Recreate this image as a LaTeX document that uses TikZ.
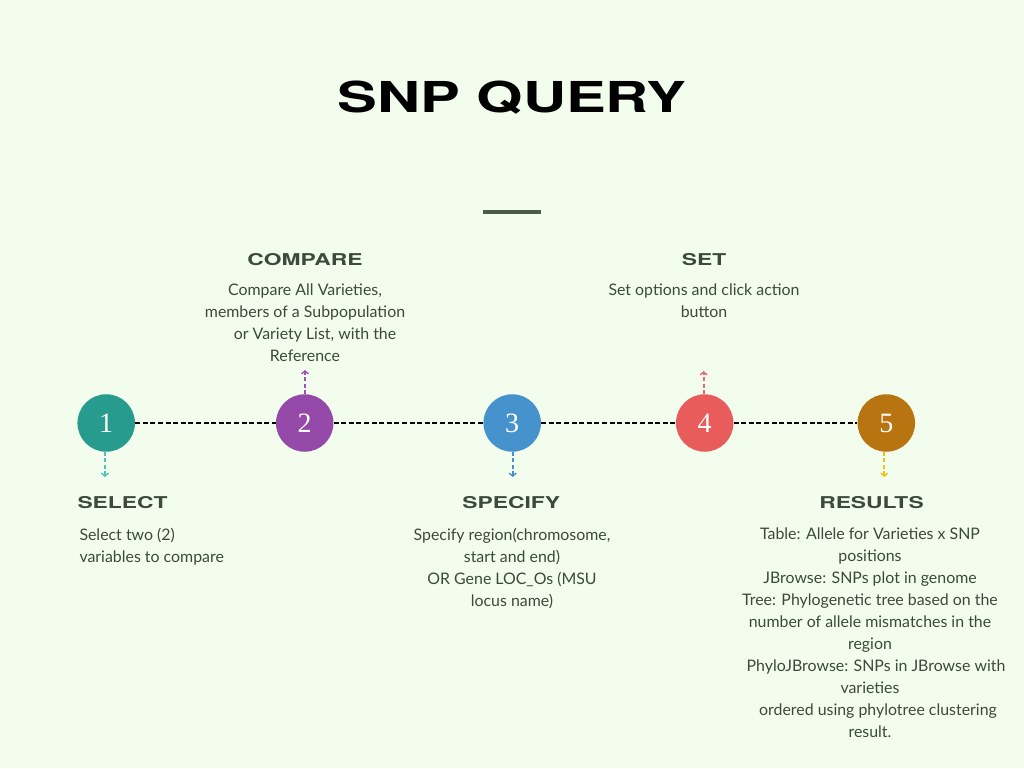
\documentclass[tikz,border=0pt]{standalone}
\usepackage{fontspec}
\setmainfont{Lato}
\newfontfamily\headfont[FakeStretch=1.4]{TeX Gyre Heros}
\newfontfamily\numfont{Liberation Serif}
\usetikzlibrary{arrows.meta}
\definecolor{bg}{HTML}{F2FDEE}
\definecolor{txt}{HTML}{3B4A3A}
\definecolor{rule}{HTML}{4B5B48}
\definecolor{cA}{HTML}{279C8E}
\definecolor{cB}{HTML}{9549A8}
\definecolor{cC}{HTML}{4592CD}
\definecolor{cD}{HTML}{E95C5C}
\definecolor{cE}{HTML}{B87411}
\definecolor{aA}{HTML}{50C4B8}
\definecolor{aB}{HTML}{A050B8}
\definecolor{aC}{HTML}{4592CD}
\definecolor{aD}{HTML}{E96868}
\definecolor{aE}{HTML}{E9C21A}
\tikzset{
  stepcirc/.style={circle, minimum size=57.5pt, inner sep=0pt, text=white, font=\numfont\fontsize{28}{28}\selectfont},
  linkline/.style={draw=black, line width=1.8pt, dash pattern=on 5pt off 2.6pt},
  tick/.style={line width=1.8pt, dash pattern=on 4pt off 2.5pt, -{Straight Barb[length=3pt,width=7pt,line width=1.4pt]}},
  heading/.style={anchor=base, text=txt, inner sep=0pt, font=\headfont\bfseries\fontsize{16.3}{16.3}\selectfont},
  body/.style={anchor=north, text=txt, inner sep=0pt, align=center, font=\fontsize{15.9}{22}\selectfont},
}
\begin{document}
\begin{tikzpicture}[x=1pt,y=-1pt]
\fill[bg] (0,0) rectangle (1024,768);
\useasboundingbox (0,0) rectangle (1024,768);
% title
\node[anchor=base, inner sep=0pt, text=black, font=\headfont\bfseries\fontsize{42.6}{42.6}\selectfont] (title) at (512,112) {SNP QUERY};
\draw[rule, line width=4pt] (483,212) -- (541,212);
% circles
\node[stepcirc, fill=cA] (n1) at (106.2,423) {1};
\node[stepcirc, fill=cB] (n2) at (304.7,423) {2};
\node[stepcirc, fill=cC] (n3) at (512.2,423) {3};
\node[stepcirc, fill=cD] (n4) at (704.7,423) {4};
\node[stepcirc, fill=cE] (n5) at (886.3,423) {5};
\draw[linkline] (n1) -- (n2);
\draw[linkline] (n2) -- (n3);
\draw[linkline] (n3) -- (n4);
\draw[linkline] (n4) -- (n5);
% ticks
\coordinate (t1) at (105,477);
\coordinate (t2) at (305,370);
\coordinate (t3) at (512.7,477);
\coordinate (t4) at (703.7,371);
\coordinate (t5) at (884.3,477);
\draw[tick, aA] (n1.south -| t1) -- (t1);
\draw[tick, aB] (n2.north -| t2) -- (t2);
\draw[tick, aC] (n3.south -| t3) -- (t3);
\draw[tick, aD] (n4.north -| t4) -- (t4);
\draw[tick, aE] (n5.south -| t5) -- (t5);
% headings
\node[heading] (h2) at (305,265) {COMPARE};
\node[heading] (h4) at (704,265) {SET};
\node[heading, anchor=base west] (h1) at (77.3,508.3) {SELECT};
\node[heading] (h3) at (511.3,508.3) {SPECIFY};
\node[heading] (h5) at (871.5,508) {RESULTS};
% bodies
\node[body] (b2) at (305,284) {Compare All Varieties,\\ members of a Subpopulation\\ \hspace*{20pt}or Variety List, with the\\ Reference};
\node[body] (b4) at (704,284) {Set options and click action\\ button};
\node[body, anchor=north west, align=left] (b1) at (79.3,527.5) {Select two (2)\\ variables to compare};
\node[body] (b3) at (512,528) {Specify region(chromosome,\\ start and end)\hspace*{44pt}\\ OR Gene LOC\_Os (MSU\\ locus name)};
\node[body] (b5) at (870,528) {Table: Allele for Varieties x SNP\\ positions\\ JBrowse: SNPs plot in genome\\ Tree: Phylogenetic tree based on the\\ number of allele mismatches in the\\ region\\ \hspace*{12pt}PhyloJBrowse: SNPs in JBrowse with\\ varieties\\ \hspace*{16pt}ordered using phylotree clustering\\ result.};
\end{tikzpicture}
\end{document}
